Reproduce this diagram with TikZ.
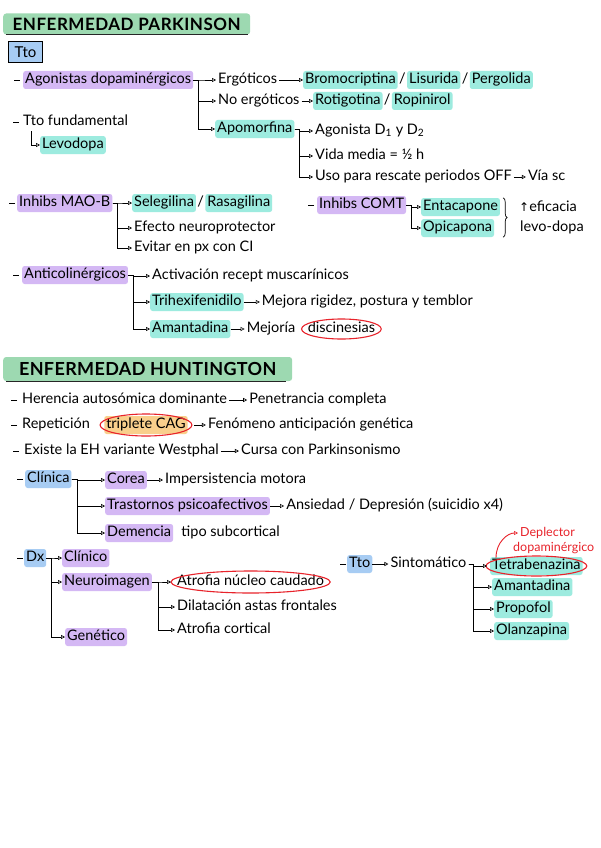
\documentclass[tikz,border=0pt]{standalone}
\usepackage{fontspec}
\setmainfont{Lato}
\newfontfamily\symf{DejaVu Sans}
\usetikzlibrary{arrows.meta,calc,decorations.pathreplacing}
\definecolor{cGr}{HTML}{9DD9B1}
\definecolor{cPur}{HTML}{D4B8F4}
\definecolor{cTq}{HTML}{9DEBDF}
\definecolor{cBl}{HTML}{A7CCF3}
\definecolor{cOr}{HTML}{F9CF8C}
\definecolor{cRed}{HTML}{E8232B}
\newcommand\hw{\fontsize{14.5}{16}\selectfont}
\newcommand\ringaround[2]{\draw[ring] let \p1=($(#1.east)-(#1.west)$) in (#1.center) ellipse [x radius={0.5*\x1+4pt}, y radius=#2];}
\begin{document}
\begin{tikzpicture}[x=1pt,y=-1pt,
  tx/.style={anchor=west, inner xsep=2pt, inner ysep=2pt, text height=10.5pt, text depth=3.5pt, font=\hw},
  hl/.style={tx, rounded corners=2.5pt},
  pu/.style={hl, fill=cPur}, tq/.style={hl, fill=cTq}, bl/.style={hl, fill=cBl}, og/.style={hl, fill=cOr},
  sl/.style={tx, inner xsep=1pt},
  head/.style={anchor=west, fill=cGr, rounded corners=3pt, inner xsep=5pt},
  headline/.style={line width=1.3pt, black!85},
  arr/.style={line width=0.6pt, -{Triangle[open,length=4pt,width=4pt,line width=0.6pt]}},
  bul/.style={line width=0.7pt},
  ring/.style={draw=cRed, line width=1.1pt},
  rtx/.style={tx, text=cRed, font=\fontsize{12.5}{14}\selectfont, text height=9pt, text depth=3pt}
]
\useasboundingbox[fill=white] (0,0) rectangle (600,848);

% ---------------- PARKINSON ----------------
\node[head, minimum width=247pt, minimum height=21pt, font=\fontsize{17}{20}\selectfont\bfseries\addfontfeature{LetterSpace=3}] (h1) at (3,24) {ENFERMEDAD PARKINSON};
\draw[headline] ([xshift=3pt]h1.south west) -- ([xshift=-2pt]h1.south east);

\node[anchor=west, fill=cBl, draw=black, line width=0.9pt, minimum width=34pt, minimum height=21pt, font=\fontsize{15}{17}\selectfont, inner sep=2pt] (tto1) at (8,52) {Tto};

\node[pu] (ago) at (23,80) {Agonistas dopaminérgicos};
\draw[bul] ([xshift=-3pt]ago.west) -- ++(-6,0);
\node[tx] (ergo) at (216,80) {Ergóticos};
\node[tx] (noergo) at (216,101) {No ergóticos};
\node[tq] (apo) at (215,129) {Apomorfina};
\draw[arr] (ago.east) -- ++(5,0) |- (ergo.west);
\draw[arr] (ago.east) -- ++(5,0) |- (noergo.west);
\draw[arr] (ago.east) -- ++(5,0) |- (apo.west);

\node[tq] (bromo) at (303,80) {Bromocriptina};
\node[sl] (sl1) at (bromo.east) {/};
\node[tq] (lisu) at (sl1.east) {Lisurida};
\node[sl] (sl2) at (lisu.east) {/};
\node[tq] (pergo) at (sl2.east) {Pergolida};
\draw[arr] (ergo.east) -- (bromo.west);

\node[tq] (roti) at (313,101) {Rotigotina};
\node[sl] (sl3) at (roti.east) {/};
\node[tq] (ropi) at (sl3.east) {Ropinirol};
\draw[arr] (noergo.east) -- (roti.west);

\node[tx] (agd) at (313,131) {Agonista D\textsubscript{1} y D\textsubscript{2}};
\node[tx] (vida) at (313,156) {Vida media = ½ h};
\node[tx] (uso) at (313,177) {Uso para rescate periodos OFF};
\node[tx] (via) at ([xshift=12pt]uso.east) {Vía sc};
\draw[arr] (apo.east) -- ++(5,0) |- (agd.west);
\draw[arr] (apo.east) -- ++(5,0) |- (vida.west);
\draw[arr] (apo.east) -- ++(5,0) |- (uso.west);
\draw[arr] (uso.east) -- (via.west);

\node[tx] (tfund) at (21,122) {Tto fundamental};
\draw[bul] ([xshift=-2pt]tfund.west) -- ++(-6,0);
\node[tq] (levo) at (40,145) {Levodopa};
\draw[arr] ([xshift=10pt]tfund.south west) |- (levo.west);

\node[pu] (mao) at (17,203) {Inhibs MAO-B};
\draw[bul] ([xshift=-2pt]mao.west) -- ++(-6,0);
\node[tq] (sele) at (132,203) {Selegilina};
\node[sl] (sl4) at (sele.east) {/};
\node[tq] (rasa) at (sl4.east) {Rasagilina};
\node[tx] (efec) at (132,228) {Efecto neuroprotector};
\node[tx] (evit) at (132,248) {Evitar en px con CI};
\draw[arr] (mao.east) -- ++(5,0) |- (sele.west);
\draw[arr] (mao.east) -- ++(5,0) |- (efec.west);
\draw[arr] (mao.east) -- ++(5,0) |- (evit.west);

\node[pu] (comt) at (317,205) {Inhibs COMT};
\draw[bul] ([xshift=-3pt]comt.west) -- ++(-6,0);
\node[tq] (enta) at (421,207) {Entacapone};
\node[tq] (opi) at (421,228) {Opicapona};
\draw[arr] (comt.east) -- ++(5,0) |- (enta.west);
\draw[arr] (comt.east) -- ++(5,0) |- (opi.west);
\draw[decorate, decoration={brace, amplitude=4pt}, line width=0.7pt] ([xshift=3pt]enta.north east) -- ([xshift=3pt]enta.east |- opi.south);
\node[tx] (efic) at (517,208) {{\symf\fontsize{12}{14}\selectfont ↑}eficacia};
\node[tx] (ldopa) at (518,228) {levo-dopa};

\node[pu] (anti) at (22,275) {Anticolinérgicos};
\draw[bul] ([xshift=-3pt]anti.west) -- ++(-6,0);
\node[tx] (activ) at (150,276) {Activación recept muscarínicos};
\node[tq] (trih) at (150,302) {Trihexifenidilo};
\node[tx] (mejora) at ([xshift=16pt]trih.east) {Mejora rigidez, postura y temblor};
\node[tq] (amant) at (150,329) {Amantadina};
\node[tx] (mejoria) at ([xshift=14pt]amant.east) {Mejoría};
\node[tx] (disc) at ([xshift=8pt]mejoria.east) {discinesias};
\ringaround{disc}{10pt}
\draw[arr] (anti.east) -- ++(5,0) |- (activ.west);
\draw[arr] (anti.east) -- ++(5,0) |- (trih.west);
\draw[arr] (anti.east) -- ++(5,0) |- (amant.west);
\draw[arr] (trih.east) -- (mejora.west);
\draw[arr] (amant.east) -- (mejoria.west);

% ---------------- HUNTINGTON ----------------
\node[head, minimum width=289pt, minimum height=24pt, font=\fontsize{18}{22}\selectfont\bfseries\addfontfeature{LetterSpace=2}] (h2) at (3,369) {ENFERMEDAD HUNTINGTON};
\draw[headline] ([xshift=3pt]h2.south west) -- ([xshift=-6pt]h2.south east);

\node[tx] (her) at (20,400) {Herencia autosómica dominante};
\draw[bul] ([xshift=-3pt]her.west) -- ++(-6,0);
\node[tx] (pen) at ([xshift=18pt]her.east) {Penetrancia completa};
\draw[arr] (her.east) -- (pen.west);

\node[tx] (rep) at (20,425) {Repetición};
\draw[bul] ([xshift=-3pt]rep.west) -- ++(-6,0);
\node[og] (trip) at ([xshift=12pt]rep.east) {triplete CAG};
\ringaround{trip}{11pt}
\node[tx] (feno) at ([xshift=18pt]trip.east) {Fenómeno anticipación genética};
\draw[arr] (trip.east) ++(6,0) -- (feno.west);

\node[tx] (exi) at (22,451) {Existe la EH variante Westphal};
\draw[bul] ([xshift=-3pt]exi.west) -- ++(-6,0);
\node[tx] (cursa) at ([xshift=18pt]exi.east) {Cursa con Parkinsonismo};
\draw[arr] (exi.east) -- (cursa.west);

\node[bl] (cli) at (25,479) {Clínica};
\draw[bul] ([xshift=-2pt]cli.west) -- ++(-6,0);
\node[pu] (corea) at (105,480) {Corea};
\node[tx] (imp) at ([xshift=16pt]corea.east) {Impersistencia motora};
\node[pu] (tras) at (105,506) {Trastornos psicoafectivos};
\node[tx] (ans) at ([xshift=14pt]tras.east) {Ansiedad / Depresión (suicidio x4)};
\node[pu] (demen) at (105,533) {Demencia};
\node[tx] (tipo) at ([xshift=6pt]demen.east) {tipo subcortical};
\draw[arr] (cli.east) -- ++(6,0) |- (corea.west);
\draw[arr] (cli.east) -- ++(6,0) |- (tras.west);
\draw[arr] (cli.east) -- ++(6,0) |- (demen.west);
\draw[arr] (corea.east) -- (imp.west);
\draw[arr] (tras.east) -- (ans.west);

\node[bl] (dx) at (24,558) {Dx};
\draw[bul] ([xshift=-1pt]dx.west) -- ++(-6,0);
\node[pu] (clinico) at (62,558) {Clínico};
\node[pu] (neuro) at (62,582) {Neuroimagen};
\node[pu] (genet) at (65,637) {Genético};
\draw[arr] (dx.east) -- ++(5,0) |- (clinico.west);
\draw[arr] (dx.east) -- ++(5,0) |- (neuro.west);
\draw[arr] (dx.east) -- ++(5,0) |- (genet.west);

\node[tx] (atro) at (175,582) {Atrofia núcleo caudado};
\ringaround{atro}{11pt}
\node[tx] (dilat) at (175,607) {Dilatación astas frontales};
\node[tx] (atroc) at (175,630) {Atrofia cortical};
\draw[arr] (neuro.east) -- ++(6,0) |- ([xshift=-4pt]atro.west);
\draw[arr] (neuro.east) -- ++(6,0) |- (dilat.west);
\draw[arr] (neuro.east) -- ++(6,0) |- (atroc.west);

\node[bl] (tto2) at (347,564) {Tto};
\draw[bul] ([xshift=-1pt]tto2.west) -- ++(-6,0);
\node[tx] (sinto) at ([xshift=16pt]tto2.east) {Sintomático};
\draw[arr] (tto2.east) -- (sinto.west);
\node[tq] (tetra) at (490,566) {Tetrabenazina};
\ringaround{tetra}{10pt}
\node[tq] (aman2) at (492,587) {Amantadina};
\node[tq] (propo) at (494,609) {Propofol};
\node[tq] (olan) at (494,631) {Olanzapina};
\draw[arr] (sinto.east) -- ++(5,0) |- ([xshift=-3pt]tetra.west);
\draw[arr] (sinto.east) -- ++(5,0) |- (aman2.west);
\draw[arr] (sinto.east) -- ++(5,0) |- (propo.west);
\draw[arr] (sinto.east) -- ++(5,0) |- (olan.west);

\node[rtx] (dep1) at (518,533) {Deplector};
\node[rtx] (dep2) at (511,548) {dopaminérgico};
\draw[arr, draw=cRed, line width=0.9pt] ([xshift=6pt,yshift=-1pt]tetra.north west) .. controls +(0,-16) and +(-10,0) .. (dep1.west);
\end{tikzpicture}
\end{document}
